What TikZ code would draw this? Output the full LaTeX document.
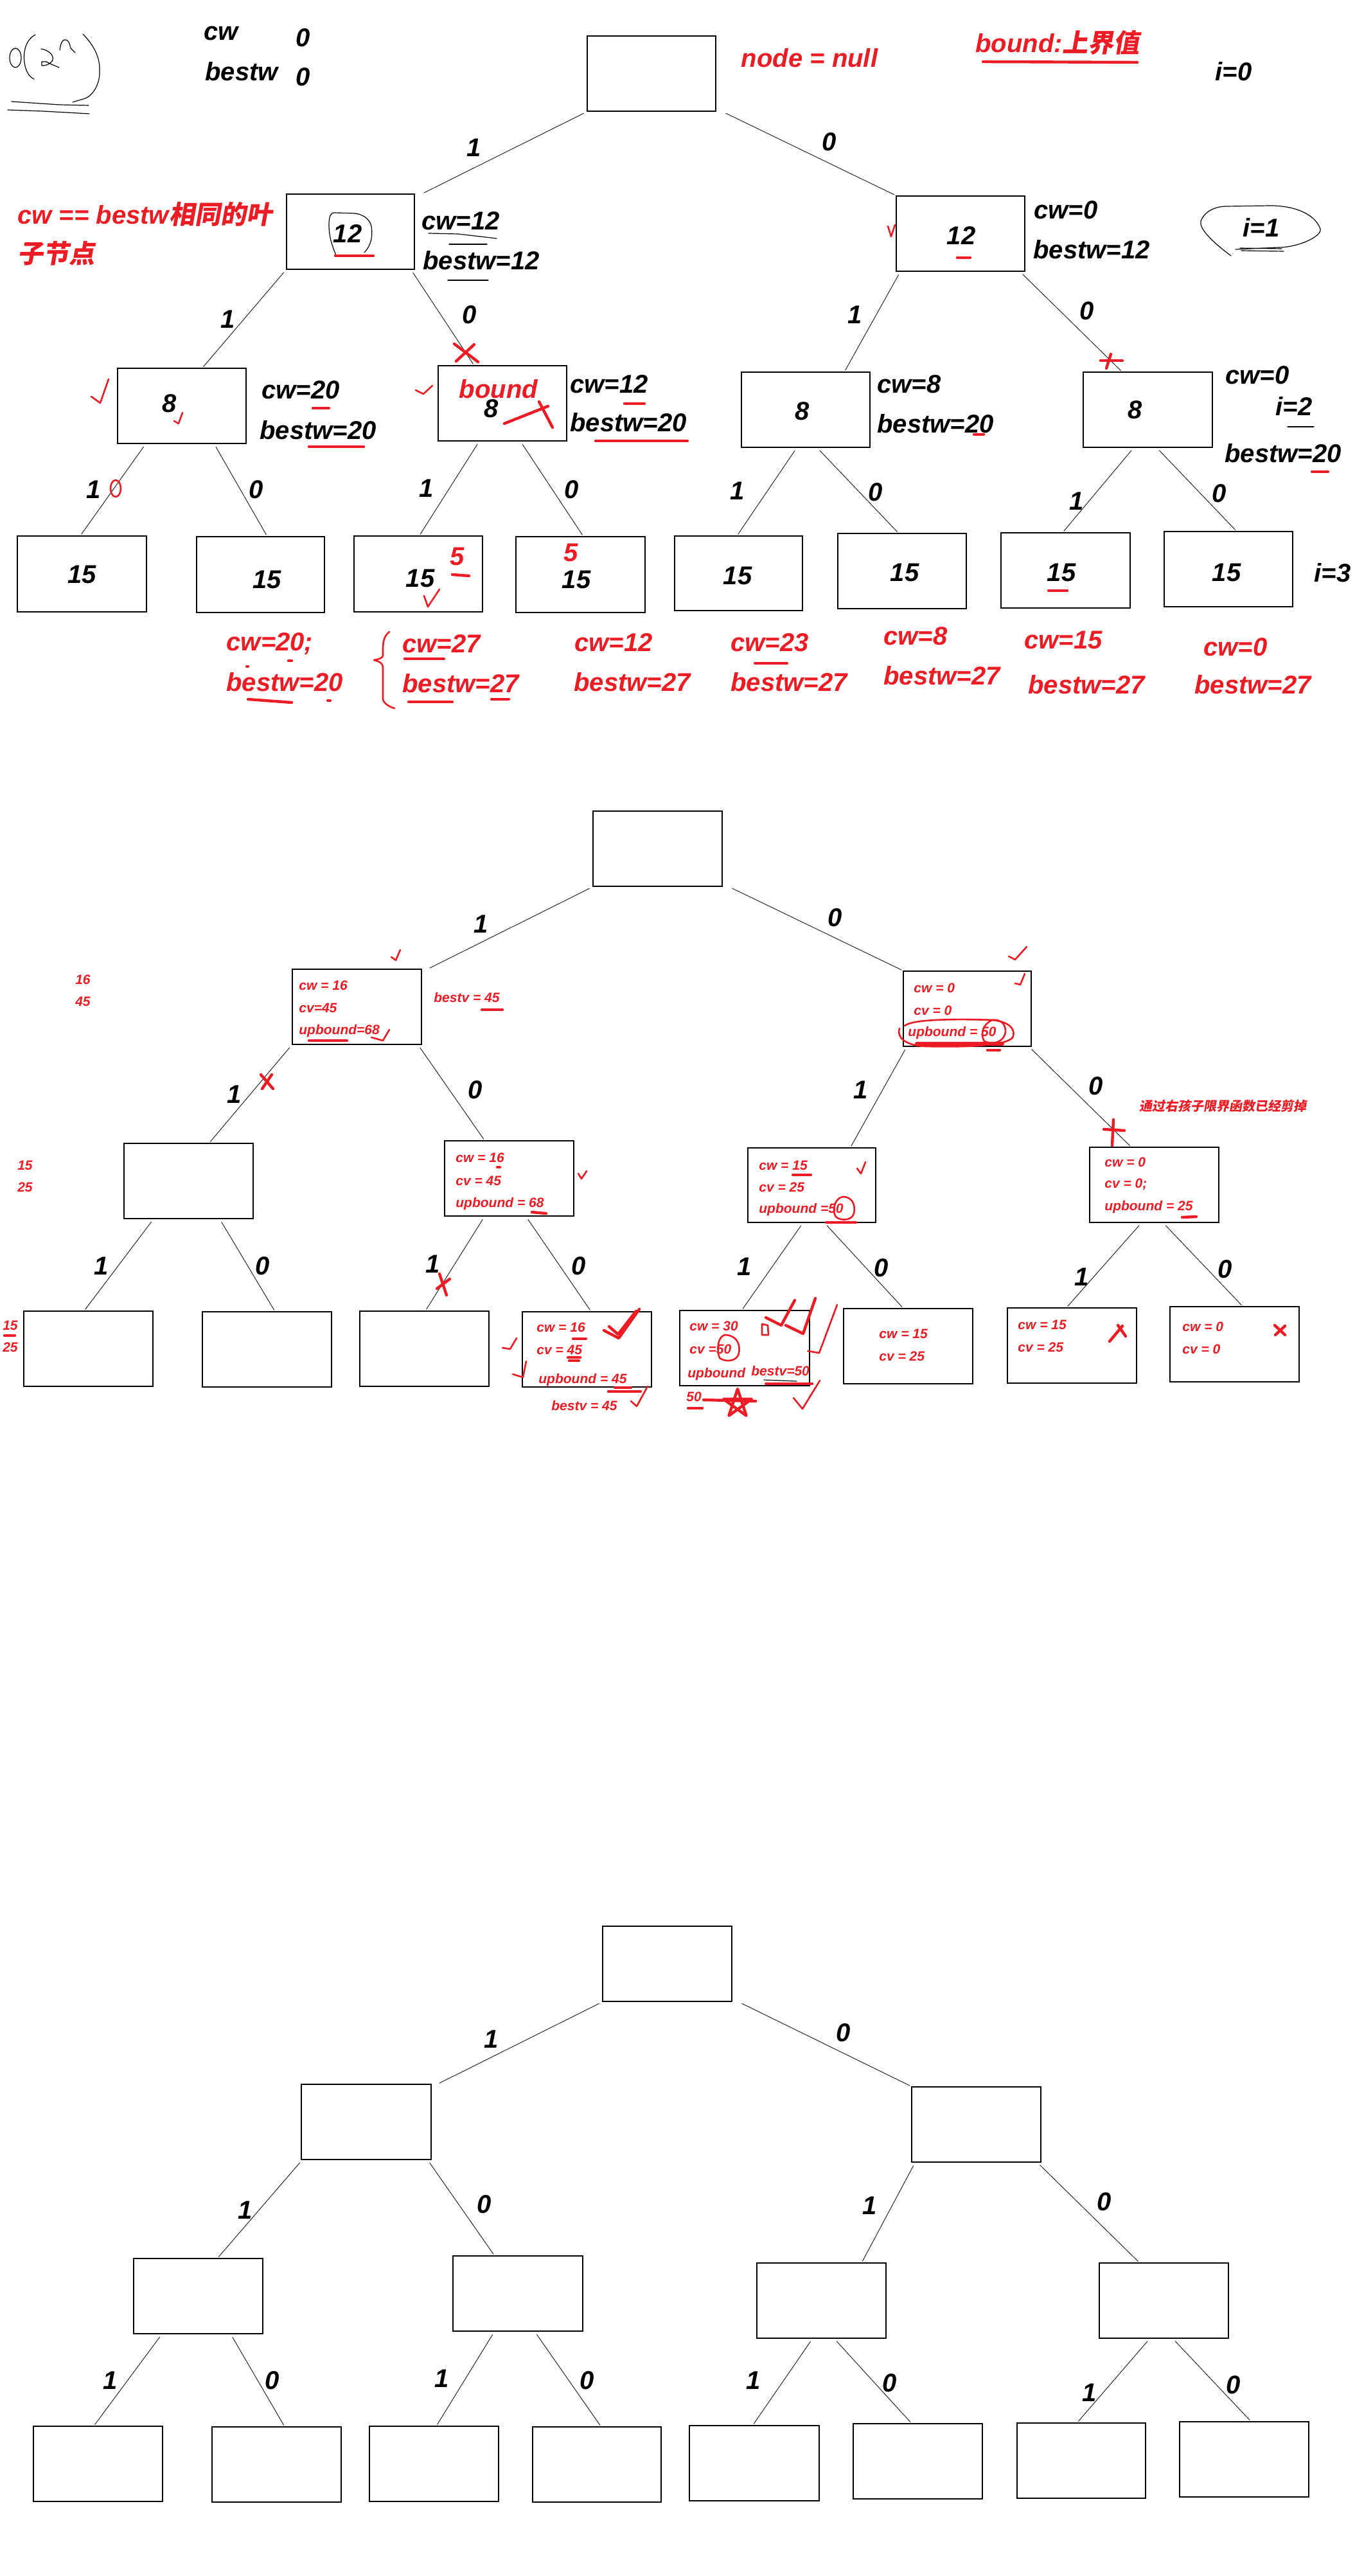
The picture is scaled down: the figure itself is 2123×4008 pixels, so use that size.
\documentclass[tikz,border=0pt]{standalone}
\usepackage{fontspec}
\setmainfont{Liberation Sans}
\newfontfamily\cjk[FakeSlant=0.18]{Noto Sans CJK SC}
\usetikzlibrary{calc,fit}
\definecolor{pred}{RGB}{237,28,36}
\newcommand\bx[5]{\node[box, fit={(#2,#3) (#4,#5)}] (#1) {};}
\newcommand\ed[4]{\draw[edge] ($(#1.south west)!#2!(#1.south east)$) -- ($(#3.north west)!#4!(#3.north east)$);}
\tikzset{
  box/.style={draw, line width=1pt, inner sep=0pt},
  edge/.style={line width=0.5pt, black!85, shorten <=2.5pt, shorten >=1pt},
  lbl/.style={font=\fontsize{20}{24}\selectfont\bfseries\itshape, inner sep=0pt},
  rl/.style={lbl, text=pred},
  sm/.style={font=\fontsize{10.5}{12}\selectfont\bfseries\itshape, text=pred, inner sep=0pt, anchor=west},
  mk/.style={pred, line width=2.2pt, line cap=round, line join=round},
  tmk/.style={pred, line width=1.3pt, line cap=round, line join=round},
  sk/.style={black, line width=0.6pt, line cap=round, line join=round},
}
\begin{document}
\begin{tikzpicture}[x=0.5pt,y=-0.5pt]
\useasboundingbox (0,0) rectangle (2123,4008);
\fill[white] (0,0) rectangle (2123,4008);

% ================= SECTION 1 =================
\bx{r1}{914}{56}{1114}{173}
\bx{a1}{446}{302}{645}{419}
\bx{b1}{1395}{305}{1595}{422}
\bx{c1}{183}{573}{383}{690}
\bx{d1}{682}{569}{882}{686}
\bx{e1}{1154}{579}{1354}{696}
\bx{f1}{1686}{579}{1887}{696}
\bx{g1}{27}{834}{228}{952}
\bx{h1}{306}{835}{505}{953}
\bx{i1}{551}{834}{751}{952}
\bx{j1}{803}{835}{1004}{953}
\bx{k1}{1050}{834}{1249}{950}
\bx{l1}{1304}{830}{1504}{947}
\bx{m1}{1558}{829}{1759}{946}
\bx{o1}{1812}{827}{2012}{944}

\ed{r1}{0}{a1}{1.06}
\ed{r1}{1.05}{b1}{0}
\ed{a1}{0}{c1}{0.66}
\ed{a1}{0.97}{d1}{0.28}
\ed{b1}{0.035}{e1}{0.8}
\ed{b1}{0.96}{f1}{0.30}
\ed{c1}{0.22}{g1}{0.49}
\ed{c1}{0.75}{h1}{0.55}
\ed{d1}{0.32}{i1}{0.51}
\ed{d1}{0.64}{j1}{0.52}
\ed{e1}{0.43}{k1}{0.49}
\ed{e1}{0.59}{l1}{0.47}
\ed{f1}{0.39}{m1}{0.48}
\ed{f1}{0.57}{o1}{0.56}

% edge labels
\node[lbl] (s1e1) at (738,230) {1};
\node[lbl] (s1e2) at (1291,221) {0};
\node[lbl] (s1e3) at (355,497) {1};
\node[lbl] (s1e4) at (731,490) {0};
\node[lbl] (s1e5) at (1331,490) {1};
\node[lbl] (s1e6) at (1692,484) {0};
\node[lbl] (s1e7) at (146,762) {1};
\node[lbl] (s1e8) at (399,762) {0};
\node[lbl] (s1e9) at (664,760) {1};
\node[lbl] (s1e10) at (890,762) {0};
\node[lbl] (s1e11) at (1148,764) {1};
\node[lbl] (s1e12) at (1363,766) {0};
\node[lbl] (s1e13) at (1676,780) {1};
\node[lbl] (s1e14) at (1898,768) {0};

% top texts
\node[lbl] (tcw) at (344,52) {cw};
\node[lbl] (tcw0) at (472,59) {0};
\node[lbl] (tbw) at (376,111) {bestw};
\node[lbl] (tbw0) at (472,120) {0};
\node[rl] (tnull) at (1260,90) {node = null};
\node[rl] (tbound) at (1646,67) {bound:{\cjk\bfseries 上界值}};
\node[lbl] (ti0) at (1920,111) {i=0};
\node[rl,anchor=west] (tnote1) at (27,333) {cw == bestw{\cjk\bfseries 相同的叶}};
\node[rl,anchor=west] (tnote2) at (27,394) {{\cjk\bfseries 子节点}};

% level 1
\node[lbl] (ta1) at (541,364) {12};
\node[lbl] (ta1cw) at (717,344) {cw=12};
\node[lbl] (ta1bw) at (749,405) {bestw=12};
\node[lbl] (tb1) at (1496,367) {12};
\node[lbl] (tb1cw) at (1659,327) {cw=0};
\node[lbl] (tb1bw) at (1699,388) {bestw=12};
\node[lbl] (ti1) at (1963,354) {i=1};

% level 2
\node[lbl] (tc1) at (264,628) {8};
\node[lbl] (tc1cw) at (468,607) {cw=20};
\node[lbl] (tc1bw) at (495,669) {bestw=20};
\node[rl] (td1b) at (776,605) {bound};
\node[lbl] (td1) at (765,636) {8};
\node[lbl] (td1cw) at (948,598) {cw=12};
\node[lbl] (td1bw) at (978,657) {bestw=20};
\node[lbl] (te1) at (1249,640) {8};
\node[lbl] (te1cw) at (1415,598) {cw=8};
\node[lbl] (te1bw) at (1456,659) {bestw=20};
\node[lbl] (tf1) at (1767,638) {8};
\node[lbl] (tf1cw) at (1957,584) {cw=0};
\node[lbl] (tf1i) at (2014,632) {i=2};
\node[lbl] (tf1bw) at (1997,705) {bestw=20};

% leaves
\node[lbl] (tg1) at (128,894) {15};
\node[lbl] (th1) at (416,902) {15};
\node[lbl] (ti1l) at (654,900) {15};
\node[lbl] (tj1) at (897,902) {15};
\node[lbl] (tk1) at (1148,896) {15};
\node[lbl] (tl1) at (1408,891) {15};
\node[lbl] (tm1) at (1652,891) {15};
\node[lbl] (to1) at (1909,891) {15};
\node[lbl] (ti3) at (2074,891) {i=3};
\node[rl] (t5a) at (712,866) {5};
\node[rl] (t5b) at (889,860) {5};

% bottom red results
\node[rl] (rs1) at (420,1002) {cw=20;};
\node[rl] (rs2) at (443,1061) {bestw=20};
\node[rl] (rs3) at (687,1002) {cw=27};
\node[rl] (rs4) at (717,1063) {bestw=27};
\node[rl] (rs5) at (955,1000) {cw=12};
\node[rl] (rs6) at (984,1061) {bestw=27};
\node[rl] (rs7) at (1198,1000) {cw=23};
\node[rl] (rs8) at (1228,1061) {bestw=27};
\node[rl] (rs9) at (1425,990) {cw=8};
\node[rl] (rs10) at (1466,1051) {bestw=27};
\node[rl] (rs11) at (1655,996) {cw=15};
\node[rl] (rs12) at (1691,1065) {bestw=27};
\node[rl] (rs13) at (1923,1007) {cw=0};
\node[rl] (rs14) at (1950,1065) {bestw=27};

% handwriting O(2^n)
\draw[sk] (24,90) ellipse [x radius=9, y radius=15];
\draw[sk] (55,54) .. controls (40,62) and (36,80) .. (38,97) .. controls (40,112) and (46,120) .. (53,123);
\draw[sk] (64,76) .. controls (76,78) and (84,86) .. (82,93) .. controls (80,99) and (70,103) .. (65,102) -- (65,96) -- (72,96) -- (80,100) -- (92,105);
\draw[sk] (93,78) .. controls (94,70) and (96,63) .. (100,62) .. controls (106,61) and (108,66) .. (110,75) -- (117,82);
\draw[sk] (129,53) .. controls (146,70) and (156,90) .. (155,110) .. controls (156,130) and (145,148) .. (133,153) -- (113,159);
\draw[sk] (18,158) -- (93,163) -- (138,164);
\draw[sk] (12,171) -- (67,173) -- (139,177);

% section 1 marks
\draw[mk] (1530,96) -- (1770,97);
\draw[sk] (523,397) .. controls (518,385) and (512,370) .. (512,350) .. controls (512,336) and (515,331) .. (520,331) -- (553,332) .. controls (565,334) and (575,340) .. (578,352) .. controls (580,366) and (579,380) .. (567,393);
\draw[mk] (522,398) -- (581,398);
\draw[sk] (667,363) -- (713,364) -- (773,371);
\draw[sk] (699,380) -- (758,380);
\draw[sk] (697,436) -- (760,436);
\draw[mk] (1490,401) -- (1510,401);
\draw[tmk] (1382,352) -- (1387,368) -- (1393,350);
\draw[sk] (1916,398) .. controls (1885,375) and (1866,355) .. (1869,344) .. controls (1874,330) and (1890,321) .. (1909,321) -- (1977,320) .. controls (2010,320) and (2045,330) .. (2055,356) .. controls (2058,368) and (2020,385) .. (1990,385) -- (1923,388);
\draw[sk] (1930,386) -- (1995,387);
\draw[sk] (1932,390) -- (1998,391);
\draw[mk] (707,535) -- (744,563);
\draw[mk] (738,536) -- (710,562);
\draw[mk] (1729,551) -- (1722,573);
\draw[mk] (1713,561) -- (1747,561);
\draw[tmk] (142,617) -- (156,627) -- (169,590);
\draw[tmk] (647,607) -- (659,613) -- (673,600);
\draw[tmk] (271,655) -- (278,659) -- (284,642);
\draw[mk] (487,635) -- (512,635);
\draw[mk] (481,695) -- (566,695);
\draw[mk] (785,659) -- (853,632);
\draw[mk] (839,625) -- (860,665);
\draw[mk] (972,628) -- (1003,628);
\draw[mk] (927,686) -- (1070,686);
\draw[mk] (1516,676) -- (1531,676);
\draw[sk] (2004,664) -- (2045,664);
\draw[mk] (2042,734) -- (2067,734);
\draw[tmk] (180,760) ellipse [x radius=8, y radius=13];
\draw[mk] (704,894) -- (730,896);
\draw[tmk] (660,927) -- (666,944) -- (684,917);
\draw[mk] (1632,919) -- (1661,919);
\draw[mk] (384,1037) -- (386,1037);
\draw[mk] (449,1028) -- (454,1028);
\draw[mk] (386,1088) -- (454,1093);
\draw[mk] (510,1090) -- (514,1090);
\draw[mk] (630,1025) -- (691,1025);
\draw[mk] (636,1092) -- (704,1092);
\draw[mk] (765,1088) -- (792,1088);
\draw[mk] (1175,1032) -- (1225,1032);
\draw[tmk] (606,983) .. controls (597,990) and (596,1000) .. (596,1012) -- (596,1020) .. controls (596,1024) and (588,1026) .. (582,1027) .. controls (590,1029) and (596,1032) .. (596,1038) -- (596,1088) .. controls (597,1094) and (606,1100) .. (614,1102);

% ================= SECTION 2 =================
\bx{r2}{923}{1262}{1124}{1379}
\bx{a2}{455}{1508}{656}{1625}
\bx{b2}{1406}{1511}{1605}{1628}
\bx{c2}{193}{1779}{394}{1896}
\bx{d2}{692}{1775}{893}{1892}
\bx{e2}{1164}{1786}{1363}{1902}
\bx{f2}{1696}{1785}{1897}{1902}
\bx{g2}{37}{2040}{238}{2157}
\bx{h2}{315}{2041}{516}{2158}
\bx{i2}{560}{2040}{761}{2157}
\bx{j2}{813}{2041}{1014}{2158}
\bx{k2}{1058}{2039}{1260}{2156}
\bx{l2}{1313}{2036}{1514}{2153}
\bx{m2}{1568}{2035}{1769}{2152}
\bx{o2}{1821}{2033}{2022}{2150}

\ed{r2}{0}{a2}{1.05}
\ed{r2}{1.05}{b2}{0}
\ed{a2}{0}{c2}{0.66}
\ed{a2}{0.97}{d2}{0.31}
\ed{b2}{0.03}{e2}{0.8}
\ed{b2}{0.98}{f2}{0.32}
\ed{c2}{0.23}{g2}{0.47}
\ed{c2}{0.74}{h2}{0.56}
\ed{d2}{0.31}{i2}{0.51}
\ed{d2}{0.63}{j2}{0.53}
\ed{e2}{0.43}{k2}{0.48}
\ed{e2}{0.6}{l2}{0.46}
\ed{f2}{0.40}{m2}{0.46}
\ed{f2}{0.57}{o2}{0.56}

\node[lbl] (s2e1) at (749,1438) {1};
\node[lbl] (s2e2) at (1300,1428) {0};
\node[lbl] (s2e3) at (365,1703) {1};
\node[lbl] (s2e4) at (740,1696) {0};
\node[lbl] (s2e5) at (1340,1696) {1};
\node[lbl] (s2e6) at (1706,1690) {0};
\node[lbl] (s2e7) at (158,1970) {1};
\node[lbl] (s2e8) at (409,1970) {0};
\node[lbl] (s2e9) at (674,1967) {1};
\node[lbl] (s2e10) at (901,1970) {0};
\node[lbl] (s2e11) at (1159,1971) {1};
\node[lbl] (s2e12) at (1372,1973) {0};
\node[lbl] (s2e13) at (1684,1987) {1};
\node[lbl] (s2e14) at (1907,1975) {0};

% texts in section 2
\node[sm] (u1) at (465,1533) {cw = 16};
\node[sm] (u2) at (465,1568) {cv=45};
\node[sm] (u3) at (465,1604) {upbound=68};
\node[sm] (u4) at (675,1552) {bestv = 45};
\node[sm,anchor=center] (u5) at (129,1524) {16};
\node[sm,anchor=center] (u6) at (129,1558) {45};
\node[sm] (u7) at (1422,1537) {cw = 0};
\node[sm] (u8) at (1422,1572) {cv = 0};
\node[sm] (u9) at (1413,1607) {upbound = 50};
\node[sm,anchor=center,font=\fontsize{10}{12}\selectfont] (u10) at (1903,1721) {{\cjk\bfseries 通过右孩子限界函数已经剪掉}};
\node[sm,anchor=center] (u11) at (39,1813) {15};
\node[sm,anchor=center] (u12) at (39,1847) {25};
\node[sm] (u13) at (709,1801) {cw = 16};
\node[sm] (u14) at (709,1837) {cv = 45};
\node[sm] (u15) at (709,1873) {upbound = 68};
\node[sm] (u16) at (1181,1813) {cw = 15};
\node[sm] (u17) at (1181,1847) {cv = 25};
\node[sm] (u18) at (1181,1882) {upbound =50};
\node[sm] (u19) at (1719,1808) {cw = 0};
\node[sm] (u20) at (1719,1843) {cv = 0;};
\node[sm] (u21) at (1719,1878) {upbound = 25};
\node[sm,anchor=center] (u22) at (16,2062) {15};
\node[sm,anchor=center] (u23) at (16,2096) {25};
\node[sm] (u24) at (835,2065) {cw = 16};
\node[sm] (u25) at (835,2100) {cv = 45};
\node[sm] (u26) at (838,2147) {upbound = 45};
\node[sm] (u27) at (858,2187) {bestv = 45};
\node[sm] (u28) at (1073,2063) {cw = 30};
\node[sm] (u29) at (1073,2099) {cv =50};
\node[sm] (u30) at (1070,2138) {upbound};
\node[sm] (u31) at (1169,2133) {bestv=50};
\node[sm] (u32) at (1068,2173) {50};
\node[sm] (u33) at (1368,2075) {cw = 15};
\node[sm] (u34) at (1368,2110) {cv = 25};
\node[sm] (u35) at (1584,2061) {cw = 15};
\node[sm] (u36) at (1584,2096) {cv = 25};
\node[sm] (u37) at (1840,2064) {cw = 0};
\node[sm] (u38) at (1840,2099) {cv = 0};

% section 2 marks
\draw[tmk] (609,1489) -- (616,1494) -- (623,1478);
\draw[mk] (481,1619) -- (540,1619);
\draw[tmk] (578,1614) -- (596,1619) -- (606,1602);
\draw[mk] (750,1571) -- (782,1571);
\draw[tmk] (1570,1488) -- (1580,1493) -- (1598,1473);
\draw[tmk] (1580,1530) -- (1588,1532) -- (1595,1515);
\draw[tmk] (1408,1596) .. controls (1420,1586) and (1480,1585) .. (1545,1587) .. controls (1570,1590) and (1580,1600) .. (1577,1612) .. controls (1574,1624) and (1530,1630) .. (1440,1628) .. controls (1405,1626) and (1396,1612) .. (1400,1600);
\draw[tmk] (1545,1587) .. controls (1530,1592) and (1525,1610) .. (1532,1620) .. controls (1545,1626) and (1563,1622) .. (1565,1605) .. controls (1565,1592) and (1557,1586) .. (1545,1587);
\draw[mk, line width=3pt] (1427,1624) -- (1560,1624);
\draw[mk] (1537,1634) -- (1556,1634);
\draw[mk] (406,1672) -- (425,1694);
\draw[mk] (423,1672) -- (408,1694);
\draw[mk] (1733,1742) -- (1731,1782);
\draw[mk] (1718,1757) -- (1750,1759);
\draw[mk] (774,1816) -- (778,1816);
\draw[mk] (828,1886) -- (850,1888);
\draw[tmk] (900,1826) -- (905,1834) -- (913,1822);
\draw[mk] (1234,1828) -- (1262,1828);
\draw[tmk] (1334,1818) -- (1340,1826) -- (1347,1808);
\draw[tmk] (1312,1862) .. controls (1300,1864) and (1295,1880) .. (1300,1892) .. controls (1306,1900) and (1326,1900) .. (1329,1888) .. controls (1332,1874) and (1326,1862) .. (1312,1862);
\draw[mk] (1286,1902) -- (1332,1902);
\draw[mk] (1840,1894) -- (1862,1893);
\draw[mk] (684,1982) -- (695,2015);
\draw[mk] (680,2005) -- (700,1990);
\draw[mk] (7,2078) -- (23,2078);
% leaf 4 marks
\draw[mk] (892,2083) -- (912,2083);
\draw[mk] (884,2112) -- (903,2112);
\draw[mk] (886,2117) -- (901,2117);
\draw[mk] (957,2159) -- (982,2159);
\draw[mk] (947,2165) -- (997,2165);
\draw[mk] (940,2070) -- (963,2082) -- (995,2037);
\draw[mk] (948,2064) -- (962,2076) -- (990,2040);
\draw[tmk] (782,2097) -- (794,2099) -- (804,2082);
\draw[tmk] (798,2138) -- (814,2143) -- (819,2118);
\draw[tmk] (982,2180) -- (991,2188) -- (1008,2157);
% leaf 5 marks
\draw[tmk] (1128,2077) .. controls (1117,2080) and (1115,2100) .. (1120,2113) .. controls (1130,2120) and (1148,2118) .. (1150,2105) .. controls (1153,2090) and (1145,2077) .. (1128,2077);
\draw[mk] (1192,2153) -- (1264,2153);
\draw[sk] (1189,2147) -- (1240,2149);
\draw[mk] (1071,2191) -- (1093,2191);
\draw[mk] (1095,2178) -- (1176,2180);
\draw[mk, shift={(1148,2184)}] (270:23) -- (54:23) -- (198:23) -- (342:23) -- (126:23) -- cycle;
\draw[mk] (1192,2050) -- (1216,2062) -- (1237,2023);
\draw[mk] (1223,2062) -- (1250,2075) -- (1269,2020);
\draw[tmk] (1257,2102) -- (1275,2105) -- (1303,2030);
\draw[tmk] (1235,2175) -- (1249,2192) -- (1276,2148);
\draw[tmk] (1186,2060) -- (1186,2077) -- (1196,2077) -- (1195,2062) -- cycle;
% leaves 7 and 8 marks
\draw[mk] (1727,2087) -- (1747,2063);
\draw[mk] (1740,2062) -- (1752,2079);
\draw[mk] (1984,2062) -- (2000,2077);
\draw[mk] (2000,2063) -- (1985,2077);

% ================= SECTION 3 =================
\bx{r3}{938}{2997}{1139}{3114}
\bx{a3}{469}{3243}{671}{3360}
\bx{b3}{1419}{3247}{1620}{3364}
\bx{c3}{208}{3514}{409}{3631}
\bx{d3}{705}{3510}{907}{3627}
\bx{e3}{1178}{3521}{1379}{3638}
\bx{f3}{1711}{3521}{1912}{3638}
\bx{g3}{52}{3775}{253}{3892}
\bx{h3}{330}{3776}{531}{3893}
\bx{i3}{575}{3775}{776}{3892}
\bx{j3}{829}{3776}{1029}{3893}
\bx{k3}{1073}{3774}{1275}{3891}
\bx{l3}{1328}{3771}{1529}{3888}
\bx{m3}{1583}{3770}{1783}{3887}
\bx{o3}{1836}{3768}{2037}{3885}

\ed{r3}{0}{a3}{1.05}
\ed{r3}{1.05}{b3}{0}
\ed{a3}{0.01}{c3}{0.65}
\ed{a3}{0.97}{d3}{0.32}
\ed{b3}{0.03}{e3}{0.81}
\ed{b3}{0.97}{f3}{0.31}
\ed{c3}{0.22}{g3}{0.47}
\ed{c3}{0.75}{h3}{0.56}
\ed{d3}{0.32}{i3}{0.52}
\ed{d3}{0.63}{j3}{0.53}
\ed{e3}{0.43}{k3}{0.49}
\ed{e3}{0.6}{l3}{0.45}
\ed{f3}{0.39}{m3}{0.47}
\ed{f3}{0.57}{o3}{0.55}

\node[lbl] (s3e1) at (765,3173) {1};
\node[lbl] (s3e2) at (1313,3163) {0};
\node[lbl] (s3e3) at (382,3439) {1};
\node[lbl] (s3e4) at (754,3430) {0};
\node[lbl] (s3e5) at (1354,3432) {1};
\node[lbl] (s3e6) at (1719,3426) {0};
\node[lbl] (s3e7) at (172,3704) {1};
\node[lbl] (s3e8) at (424,3704) {0};
\node[lbl] (s3e9) at (688,3701) {1};
\node[lbl] (s3e10) at (914,3704) {0};
\node[lbl] (s3e11) at (1173,3704) {1};
\node[lbl] (s3e12) at (1385,3708) {0};
\node[lbl] (s3e13) at (1696,3723) {1};
\node[lbl] (s3e14) at (1920,3711) {0};
\end{tikzpicture}
\end{document}
